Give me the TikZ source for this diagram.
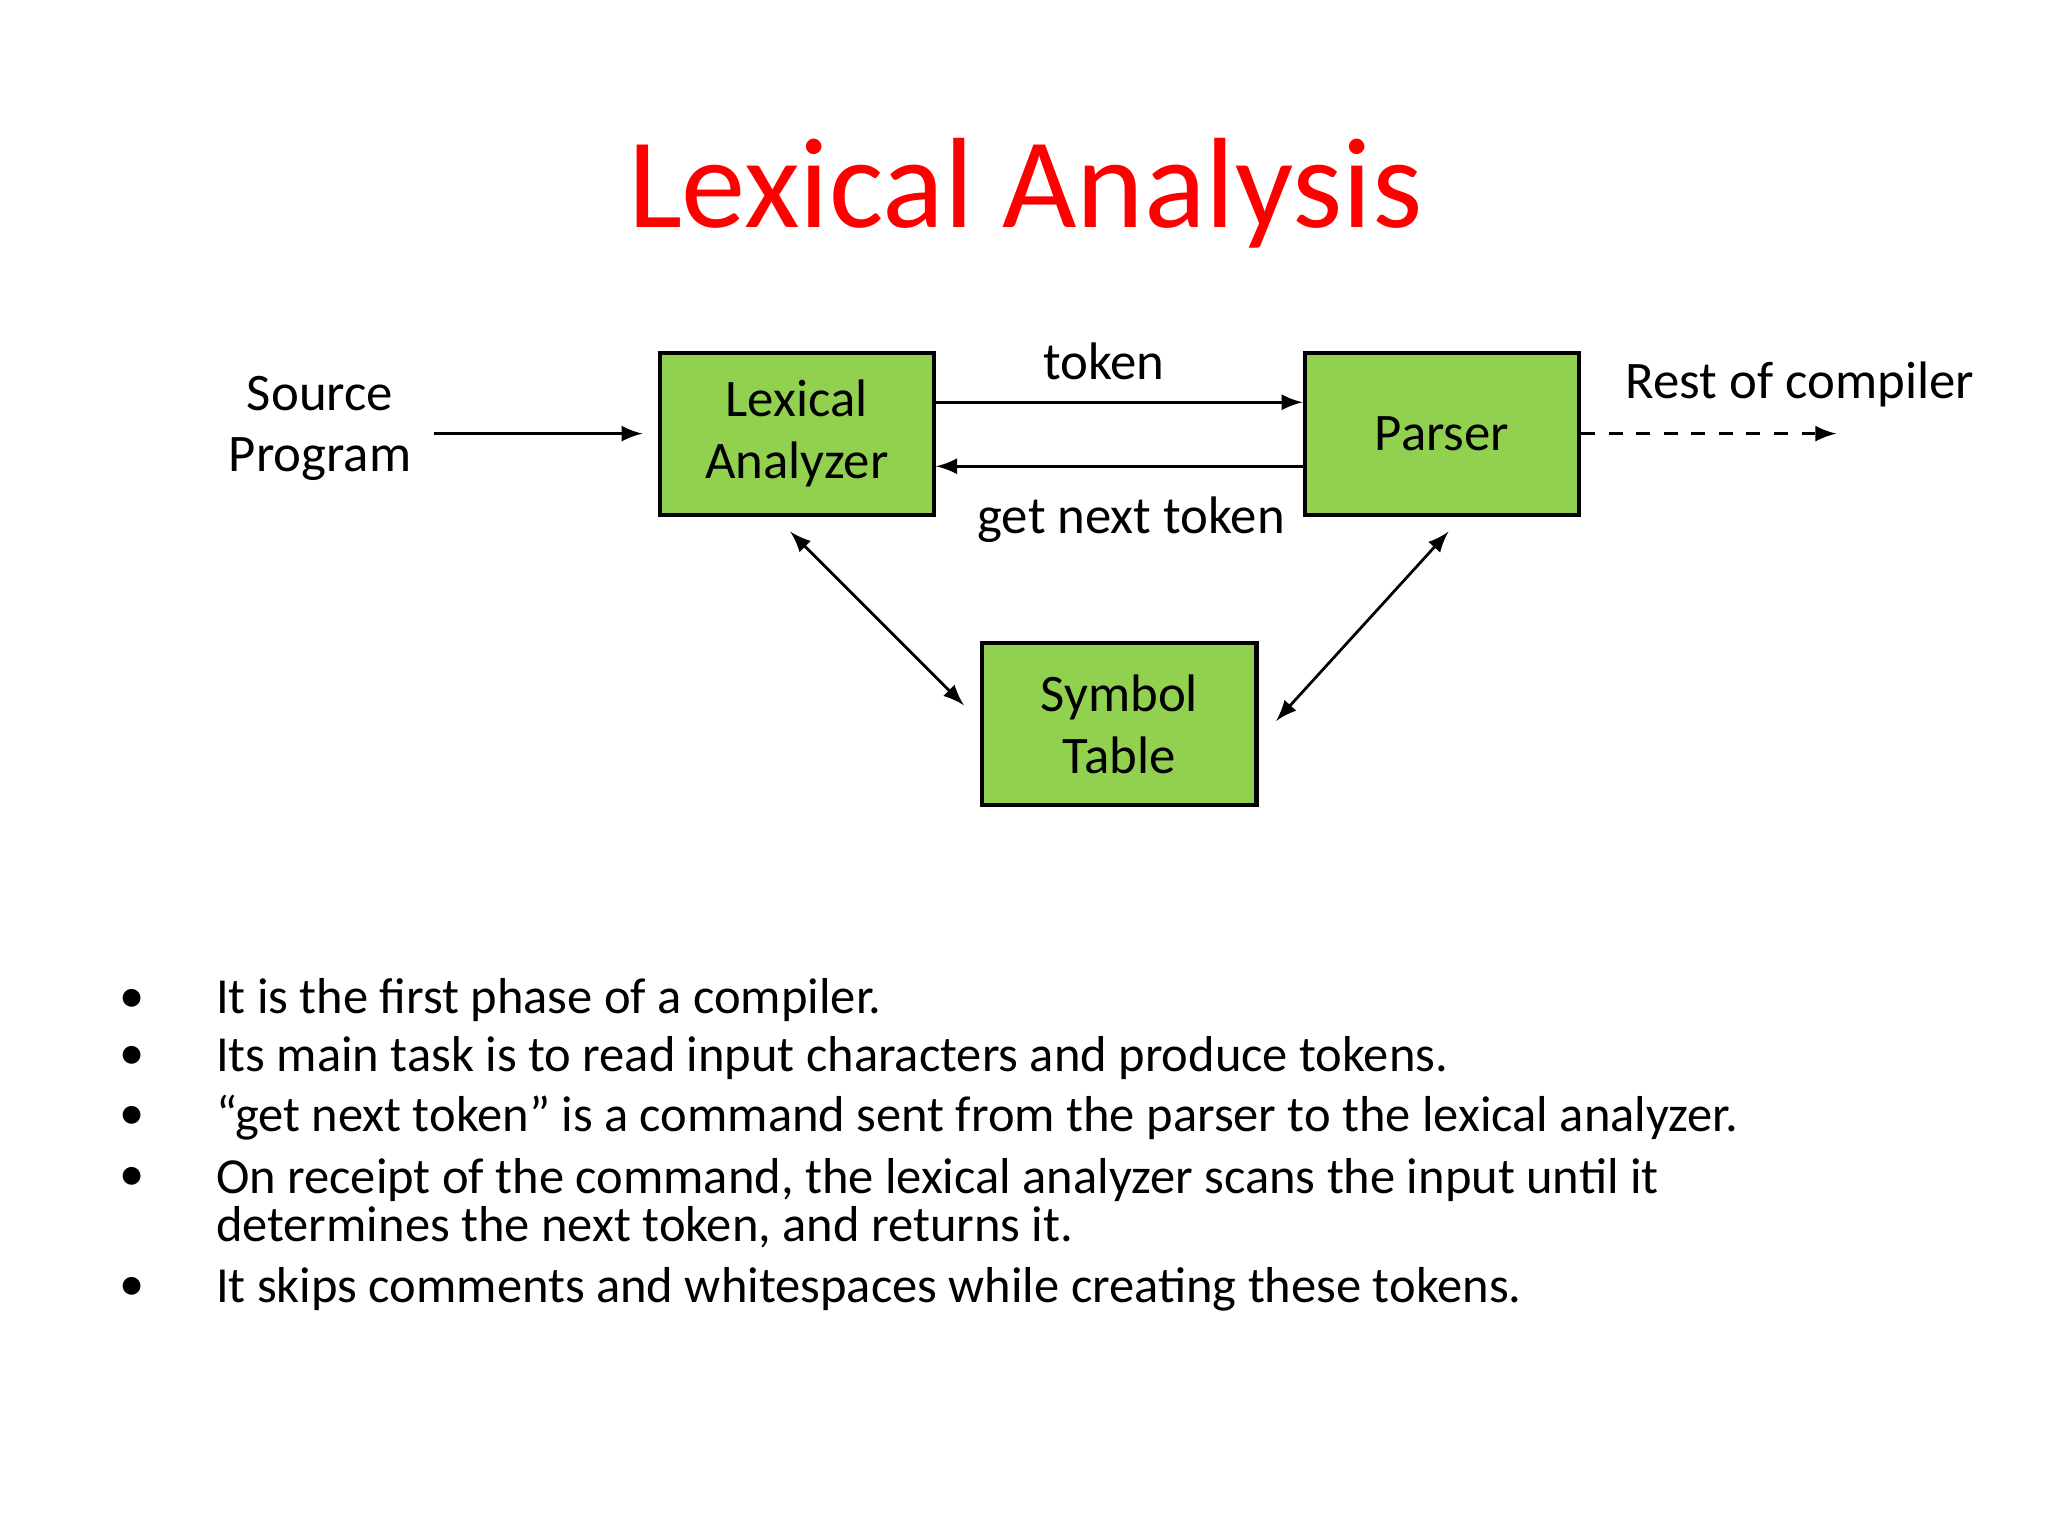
\documentclass[tikz,border=0pt]{standalone}
\usepackage{fontspec}
\setmainfont{Carlito}
\usetikzlibrary{arrows,positioning,calc}
\definecolor{boxgreen}{RGB}{146,208,80}
\definecolor{titlered}{RGB}{255,0,0}
\tikzset{
  block/.style={draw=black,fill=boxgreen,line width=0.9pt,minimum width=2.1cm,minimum height=1.24cm,align=center,font=\fontsize{11.5}{13.5}\selectfont},
  lbl/.style={align=center,font=\fontsize{11.5}{13.5}\selectfont},
  conn/.style={line width=0.6pt,-latex},
  bul/.style={anchor=west,font=\fontsize{11}{10.5}\selectfont,align=left}
}
\begin{document}
\begin{tikzpicture}[x=1cm,y=1cm]
\useasboundingbox (0,0) rectangle (15.68,-11.76);
\node[text=titlered,font=\fontsize{28}{32}\selectfont] (title) at (7.85,-1.48) {Lexical Analysis};
%blocks
\node[block] (LEX) at (6.10,-3.32) {Lexical\\Analyzer};
\node[block] (PAR) at (11.04,-3.32) {Parser};
\node[block] (SYM) at (8.57,-5.545) {Symbol\\Table};
%labels
\node[lbl] (SRC) at (2.45,-3.28) {Source\\Program};
\node[lbl] (TOK) at (8.45,-2.77) {token};
\node[lbl] (GNT) at (8.66,-3.98) {get next token};
\node[lbl] (REST) at (13.78,-2.94) {Rest of compiler};
%connectors
\coordinate (srcS) at (3.32,-3.32);
\coordinate (srcE) at (4.92,-3.32);
\coordinate (restE) at (14.06,-3.32);
\draw[conn] (srcS) -- (srcE);
\draw[conn] ($(LEX.east)+(0,0.24)$) -- ($(PAR.west)+(0,0.24)$);
\draw[conn] ($(PAR.west)+(0,-0.25)$) -- ($(LEX.east)+(0,-0.25)$);
\draw[conn,dashed] (PAR.east) -- (restE);
\coordinate (lexD) at (6.05,-4.07);
\coordinate (symL) at (7.38,-5.40);
\coordinate (symR) at (9.77,-5.52);
\coordinate (parD) at (11.09,-4.07);
\draw[line width=0.6pt,latex-latex] (lexD) -- (symL);
\draw[line width=0.6pt,latex-latex] (symR) -- (parD);
%bullets
\foreach \y/\txt in {7.66/It is the first phase of a compiler.,
  8.10/Its main task is to read input characters and produce tokens.,
  8.56/``get next token'' is a command sent from the parser to the lexical analyzer.,
  9.21/On receipt of the command{,} the lexical analyzer scans the input until it\\determines the next token{,} and returns it.,
  9.87/It skips comments and whitespaces while creating these tokens.} {
  \node[bul] at (1.53,-\y) {\txt};
}
\foreach \y in {7.66,8.10,8.56,9.03,9.87} {
  \node[font=\fontsize{11}{13}\selectfont] at (1.01,-\y) {•};
}
\end{tikzpicture}
\end{document}
